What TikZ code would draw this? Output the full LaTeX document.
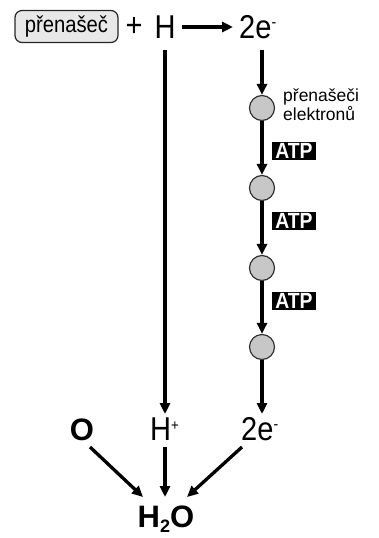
\documentclass[tikz,border=0pt]{standalone}
\usepackage{fontspec}
\setmainfont{Liberation Sans}
\newfontfamily\narrowfont{Liberation Sans}[FakeStretch=0.88]
\usetikzlibrary{arrows.meta}
\newcommand{\supminus}{\raisebox{11pt}{\fontsize{16}{16}\selectfont -}}
\newcommand{\supplus}{\raisebox{10pt}{\fontsize{15}{15}\selectfont +}}
\begin{document}
\begin{tikzpicture}[x=1pt,y=-1pt,
  conn/.style={line width=3.3pt,-{Triangle[length=11pt,width=10pt]}},
  big/.style={font=\fontsize{33}{34}\narrowfont,inner sep=0pt},
  bigb/.style={font=\fontsize{31}{34}\bfseries,inner sep=0pt},
  carrier/.style={circle,draw=black!80,line width=1.2pt,fill=black!22,minimum size=25pt,inner sep=0pt},
  atp/.style={fill=black,text=white,font=\fontsize{22}{22}\narrowfont\bfseries,inner sep=0pt,minimum height=18pt,minimum width=44pt}
]
\useasboundingbox (0,0) rectangle (379,538);
\node[draw=black!85,rounded corners=7pt,fill=black!9,line width=1.2pt,minimum width=103pt,minimum height=32pt,inner sep=2pt,font=\fontsize{23}{23}\narrowfont] (box) at (66.5,26.5) {přenašeč};
\node[big] (plus) at (134,27) {+};
\node[big,anchor=base] (H) at (165,38) {H};
\node[big,anchor=base west] (e1) at (239,38) {2e\supminus};
\coordinate (hs) at (182,27);
\coordinate (he) at (233,27);
\draw[conn] (hs) -- (he);
\node[carrier] (c1) at (262,108) {};
\node[carrier] (c2) at (262,188) {};
\node[carrier] (c3) at (262,268) {};
\node[carrier] (c4) at (262,347) {};
\node[anchor=base west,align=left,inner sep=0pt,font=\fontsize{17.5}{17}\selectfont] (lab) at (283,120) {přenašeči\\elektronů};
\node[atp] (a1) at (294,150.5) {ATP};
\node[atp] (a2) at (294,221) {ATP};
\node[atp] (a3) at (294,300.5) {ATP};
\node[bigb,anchor=base] (O) at (82,440) {O};
\node[big,anchor=base west] (Hp) at (150,440) {H\supplus};
\node[big,anchor=base west] (e2) at (241,440) {2e\supminus};
\node[bigb,anchor=base] (W) at (166,527) {H\raisebox{-5pt}{\fontsize{18}{18}\selectfont\bfseries 2}O};
\coordinate (Htop) at (165,50);
\coordinate (Hbot) at (165,414);
\coordinate (etop) at (262,50);
\coordinate (ebot) at (262,414);
\draw[conn] (Htop) -- (Hbot);
\draw[conn] (etop) -- (c1);
\draw[conn] (c1) -- (c2);
\draw[conn] (c2) -- (c3);
\draw[conn] (c3) -- (c4);
\draw[conn] (c4) -- (ebot);
\coordinate (Os) at (90,447);
\coordinate (Oe) at (143,497);
\coordinate (Hs) at (165,447);
\coordinate (He) at (165,497);
\coordinate (Es) at (242,447);
\coordinate (Ee) at (187,497);
\draw[conn] (Os) -- (Oe);
\draw[conn] (Hs) -- (He);
\draw[conn] (Es) -- (Ee);
\end{tikzpicture}
\end{document}
